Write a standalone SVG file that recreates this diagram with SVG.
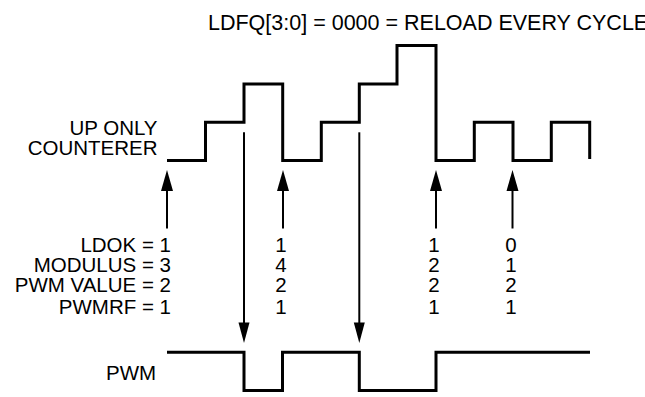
<svg xmlns="http://www.w3.org/2000/svg" width="645" height="397" viewBox="0 0 645 397">
<defs>
<style>
text{font-family:"Liberation Sans",Arial,sans-serif;font-size:20.5px;fill:#000}
.r{text-anchor:end}
.m{text-anchor:middle}
.wave{fill:none;stroke:#000;stroke-width:3;stroke-linejoin:miter;stroke-linecap:butt}
.arr{fill:none;stroke:#000;stroke-width:2}
.head{fill:#000}
</style>
</defs>
<rect width="645" height="397" fill="#fff"/>
<g id="title"><text x="208" y="30" style="font-size:21.5px">LDFQ[3:0] = 0000 = RELOAD EVERY CYCLE</text></g>
<g id="counter">
<text class="r" x="157.5" y="135">UP ONLY</text>
<text class="r" x="157.5" y="155">COUNTERER</text>
<path class="wave" d="M167,160.5 H205.5 V122.3 H244 V84 H282.7 V160.5 H321.3 V122.3 H359.3 V84 H397 V45.5 H436 V160.5 H474.3 V122.3 H513 V160.5 H551.3 V122.3 H589.7 V159"/>
</g>
<g id="pwm">
<text x="106" y="380">PWM</text>
<path class="wave" d="M167,352.3 H244 V390.5 H282.5 V352.3 H359.3 V390.5 H436 V352.3 H590"/>
</g>
<g id="labels">
<text class="r" x="171" y="252">LDOK = 1</text>
<text class="r" x="171" y="272">MODULUS = 3</text>
<text class="r" x="171" y="292">PWM VALUE = 2</text>
<text class="r" x="171" y="313.5">PWMRF = 1</text>
</g>
<g id="col1">
<text class="m" x="281" y="252">1</text>
<text class="m" x="281" y="272">4</text>
<text class="m" x="281" y="292">2</text>
<text class="m" x="281" y="313.5">1</text>
</g>
<g id="col2">
<text class="m" x="434" y="252">1</text>
<text class="m" x="434" y="272">2</text>
<text class="m" x="434" y="292">2</text>
<text class="m" x="434" y="313.5">1</text>
</g>
<g id="col3">
<text class="m" x="511" y="252">0</text>
<text class="m" x="511" y="272">1</text>
<text class="m" x="511" y="292">2</text>
<text class="m" x="511" y="313.5">1</text>
</g>
<g id="connectors">
<line class="arr" x1="167" y1="228.5" x2="167" y2="188"/>
<polygon class="head" points="167,170 161,191 173,191"/>
<line class="arr" x1="283" y1="228.5" x2="283" y2="188"/>
<polygon class="head" points="283,170 277,191 289,191"/>
<line class="arr" x1="436" y1="228.5" x2="436" y2="188"/>
<polygon class="head" points="436,170 430,191 442,191"/>
<line class="arr" x1="512.5" y1="228.5" x2="512.5" y2="188"/>
<polygon class="head" points="512.5,170 506.5,191 518.5,191"/>
<line class="arr" x1="244" y1="132.3" x2="244" y2="325"/>
<polygon class="head" points="244,343 238.5,322.5 249.5,322.5"/>
<line class="arr" x1="359.3" y1="132.3" x2="359.3" y2="325"/>
<polygon class="head" points="359.3,343 353.8,322.5 364.8,322.5"/>
</g>
</svg>
